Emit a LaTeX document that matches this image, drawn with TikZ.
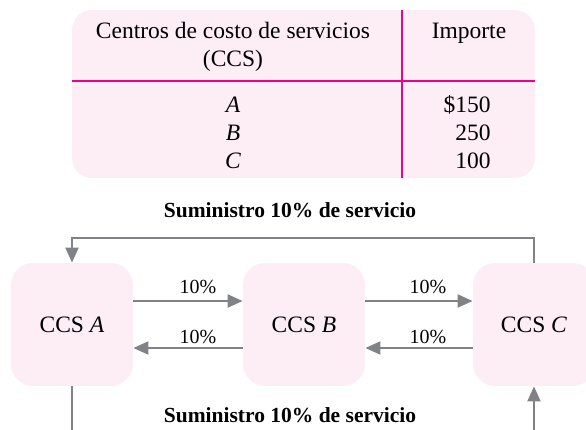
\documentclass[tikz,border=0pt]{standalone}
\usepackage{fontspec}
\setmainfont{Liberation Serif}
\usetikzlibrary{arrows.meta}
\definecolor{pinkfill}{RGB}{253,237,244}
\definecolor{magline}{RGB}{236,0,140}
\definecolor{arrgray}{RGB}{128,130,134}
\begin{document}
\begin{tikzpicture}[x=0.5pt,y=-0.5pt,
  txt/.style={font=\fontsize{11.75}{14}\selectfont, inner sep=0pt},
  pct/.style={font=\fontsize{10}{12}\selectfont, inner sep=0pt, anchor=base},
  ttl/.style={font=\bfseries\fontsize{10.75}{13}\selectfont, inner sep=0pt},
  ccs/.style={fill=pinkfill, rounded corners=11pt, minimum width=61pt, minimum height=61.5pt, inner sep=0pt, font=\fontsize{11.75}{14}\selectfont},
  conn/.style={draw=arrgray, line width=1pt, -{Triangle[length=7.5pt,width=6.5pt]}},
  rule/.style={draw=magline, line width=0.8pt}]
\useasboundingbox (0,0) rectangle (586,430);
\clip (0,0) rectangle (586,430);
% table
\node[fill=pinkfill, rounded corners=10pt, minimum width=231.5pt, minimum height=84pt, inner sep=0pt] (tab) at (303.5,94) {};
\draw[rule] (402,10) -- (402,178);
\draw[rule] (72,81) -- (535,81);
\node[txt, anchor=base] (h1) at (233,38) {Centros de costo de servicios};
\node[txt, anchor=base] (h2) at (233,66) {(CCS)};
\node[txt, anchor=base] (h3) at (469,38) {Importe};
\node[txt, anchor=base] (ra) at (233,112) {\textit{A}};
\node[txt, anchor=base] (rb) at (233,140) {\textit{B}};
\node[txt, anchor=base] (rc) at (233,168) {\textit{C}};
\node[txt, anchor=base east] (va) at (491,112) {\$150};
\node[txt, anchor=base east] (vb) at (491,140) {250};
\node[txt, anchor=base east] (vc) at (491,168) {100};
% titles
\node[ttl] (t1) at (290,210) {Suministro 10\% de servicio};
\node[ttl] (t2) at (290,415) {Suministro 10\% de servicio};
% boxes
\node[ccs] (A) at (72,324.5) {CCS \textit{A}};
\node[ccs] (B) at (304,324.5) {CCS \textit{B}};
\node[ccs] (C) at (534,324.5) {CCS \textit{C}};
% arrows
\draw[conn] ([yshift=11.75pt]A.east) -- node[pct, xshift=5pt, yshift=4pt]{10\%} ([yshift=11.75pt]B.west);
\draw[conn] ([yshift=-11.75pt]B.west) -- node[pct, xshift=5pt, yshift=2.5pt]{10\%} ([yshift=-11.75pt]A.east);
\draw[conn] ([yshift=11.75pt]B.east) -- node[pct, xshift=4.5pt, yshift=4pt]{10\%} ([yshift=11.75pt]C.west);
\draw[conn] ([yshift=-11.75pt]C.west) -- node[pct, xshift=4.5pt, yshift=2.5pt]{10\%} ([yshift=-11.75pt]B.east);
\draw[conn] (C.north) -- ++(0,-25) -| (A.north);
\draw[conn] (A.south) -- ++(0,80) -| (C.south);
\end{tikzpicture}
\end{document}
